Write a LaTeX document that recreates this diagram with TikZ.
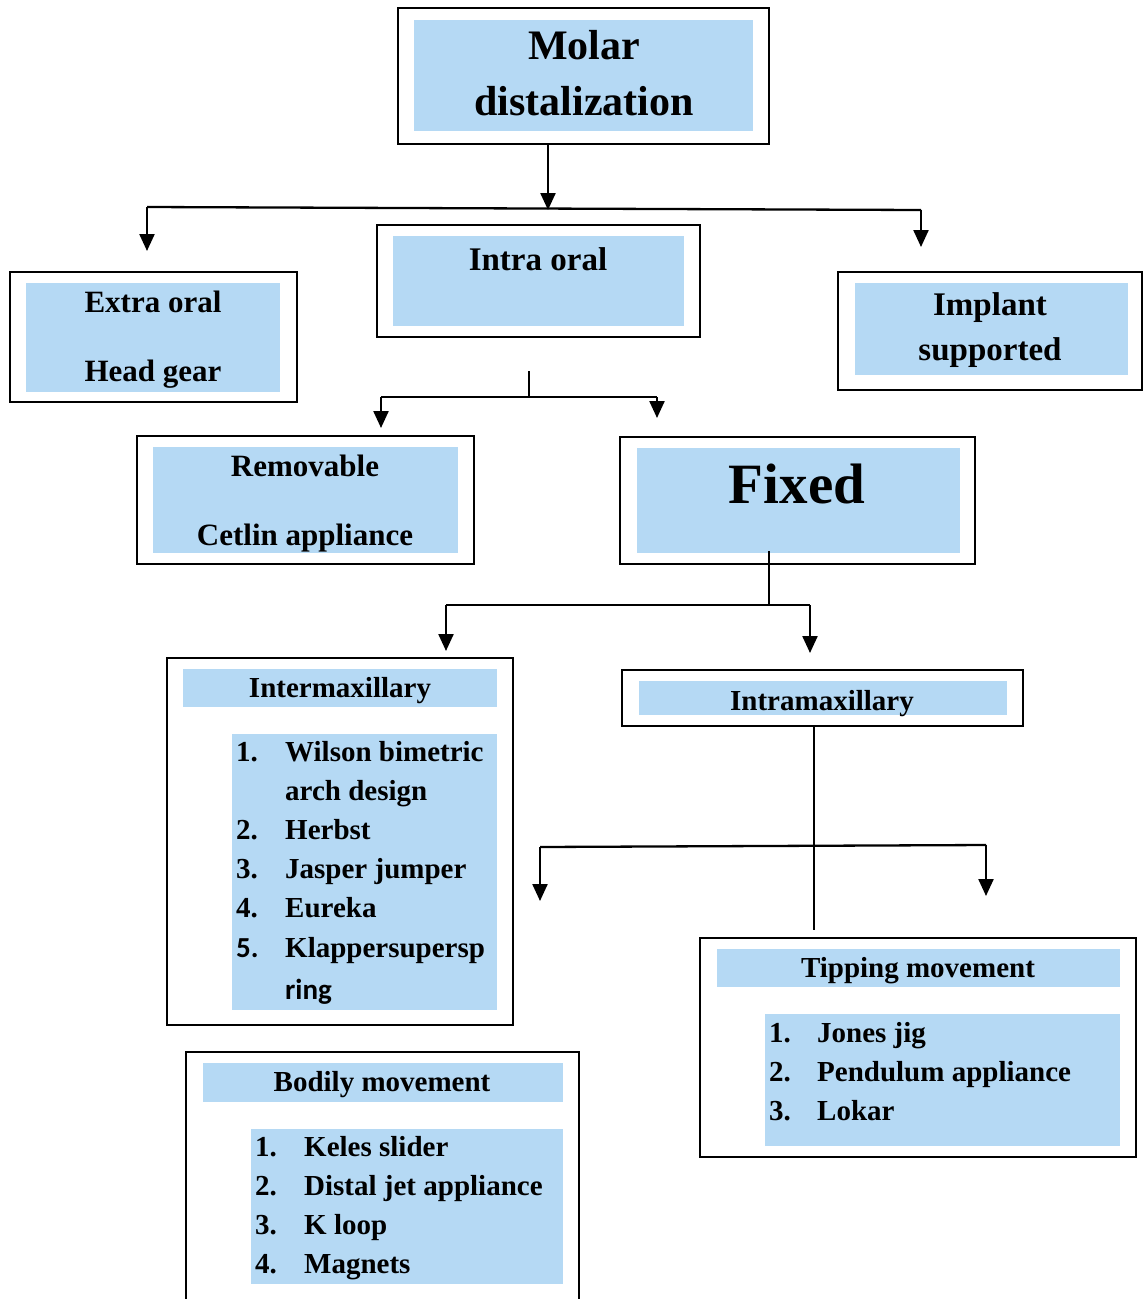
\documentclass[tikz,border=0pt]{standalone}
\usepackage{fontspec}
\setmainfont{Liberation Serif}
\newfontfamily\calib{Carlito}
\usetikzlibrary{arrows.meta,fit}
\definecolor{lb}{RGB}{181,217,244}
\begin{document}
\begin{tikzpicture}[x=1pt,y=-1pt,
  outerbox/.style={draw=black,line width=1.9pt,inner sep=0pt,outer sep=0pt},
  fillbox/.style={fill=lb,inner sep=0pt,outer sep=0pt},
  conn/.style={line width=2.3pt},
  arr/.style={line width=2.3pt,-{Triangle[width=15pt,length=17pt]}},
  txt/.style={anchor=base,inner sep=0pt,font=\fontsize{#1}{#1}\selectfont\bfseries},
  itm/.style={anchor=base west,inner sep=0pt,font=\fontsize{29}{29}\selectfont\bfseries},
  itmc/.style={anchor=base west,inner sep=0pt,font=\fontsize{29}{29}\selectfont\calib\bfseries}
]
\clip (0,0) rectangle (1143,1299);
\fill[white] (0,0) rectangle (1143,1299);

% Molar distalization
\node[outerbox,fit={(398,8) (769,144)}] (molar) {};
\node[fillbox,fit={(414,20) (753,131)}] (molarF) {};
\node[txt=42] (molarT1) at (584,59) {Molar};
\node[txt=42] (molarT2) at (584,115) {distalization};

% first level connectors
\coordinate (h1M) at (548,210);
\coordinate (h1L) at (147,207);
\coordinate (h1R) at (921,210);
\coordinate (tEO) at (147,251);
\coordinate (tIS) at (921,247);
\draw[arr] (molar.south -| h1M) -- (h1M);
\draw[conn] (h1L) -- (h1R);
\draw[arr] (h1L) -- (tEO);
\draw[arr] (h1R) -- (tIS);

% Extra oral
\node[outerbox,fit={(10,272) (297,402)}] (extra) {};
\node[fillbox,fit={(26,283) (280,392)}] (extraF) {};
\node[txt=31] (extraT1) at (153,312) {Extra oral};
\node[txt=31] (extraT2) at (153,381) {Head gear};

% Intra oral
\node[outerbox,fit={(377,225) (700,337)}] (intra) {};
\node[fillbox,fit={(393,236) (684,326)}] (intraF) {};
\node[txt=33] (intraT) at (538,270) {Intra oral};

% Implant supported
\node[outerbox,fit={(838,272) (1142,390)}] (implant) {};
\node[fillbox,fit={(855,283) (1128,375)}] (implantF) {};
\node[txt=33] (implantT1) at (990,315) {Implant};
\node[txt=33] (implantT2) at (990,360) {supported};

% intra oral connectors
\coordinate (io1) at (529,371);
\coordinate (io2) at (529,397);
\coordinate (ioL) at (381,397);
\coordinate (ioR) at (657,397);
\coordinate (tRem) at (381,428);
\coordinate (tFix) at (657,418);
\draw[conn] (io1) -- (io2);
\draw[conn] (ioL) -- (ioR);
\draw[arr] (ioL) -- (tRem);
\draw[arr] (ioR) -- (tFix);

% Removable
\node[outerbox,fit={(137,436) (474,564)}] (remov) {};
\node[fillbox,fit={(153,447) (458,553)}] (removF) {};
\node[txt=31] (removT1) at (305,476) {Removable};
\node[txt=31] (removT2) at (305,545) {Cetlin appliance};

% Fixed
\node[outerbox,fit={(620,437) (975,564)}] (fixed) {};
\node[fillbox,fit={(637,448) (960,553)}] (fixedF) {};
\node[txt=57] (fixedT) at (797,503) {Fixed};

% fixed connectors
\coordinate (fx1) at (769,551);
\coordinate (fx2) at (769,605);
\coordinate (fxL) at (446,605);
\coordinate (fxR) at (810,605);
\coordinate (tInter) at (446,651);
\coordinate (tIntra) at (810,653);
\draw[conn] (fx1) -- (fx2);
\draw[conn] (fxL) -- (fxR);
\draw[arr] (fxL) -- (tInter);
\draw[arr] (fxR) -- (tIntra);

% Intermaxillary
\node[outerbox,fit={(167,658) (513,1025)}] (inter) {};
\node[fillbox,fit={(183,669) (497,707)}] (interH) {};
\node[fillbox,fit={(232,734) (497,1010)}] (interL) {};
\node[txt=29] (interT) at (340,697) {Intermaxillary};
\node[itm] (iN1) at (236,761) {1.};
\node[itm] (iI1) at (285,761) {Wilson bimetric};
\node[itm] (iI1b) at (285,800) {arch design};
\node[itm] (iN2) at (236,839) {2.};
\node[itm] (iI2) at (285,839) {Herbst};
\node[itm] (iN3) at (236,878) {3.};
\node[itm] (iI3) at (285,878) {Jasper jumper};
\node[itm] (iN4) at (236,917) {4.};
\node[itm] (iI4) at (285,917) {Eureka};
\node[itmc] (iN5) at (236,957) {5.};
\node[itm] (iI5) at (285,957) {Klappersupersp};
\node[itmc] (iI5b) at (285,999) {ring};

% Intramaxillary
\node[outerbox,fit={(622,670) (1023,726)}] (intram) {};
\node[fillbox,fit={(639,681) (1007,715)}] (intramF) {};
\node[txt=29] (intramT) at (822,710) {Intramaxillary};

% intramaxillary connectors
\coordinate (im1) at (814,726);
\coordinate (im2) at (814,930);
\coordinate (imL) at (540,847);
\coordinate (imR) at (986,845);
\coordinate (tBod) at (540,901);
\coordinate (tTip) at (986,896);
\draw[conn] (intram.south -| im1) -- (im2);
\draw[conn] (imL) -- (imR);
\draw[arr] (imL) -- (tBod);
\draw[arr] (imR) -- (tTip);

% Tipping movement
\node[outerbox,fit={(700,938) (1136,1157)}] (tip) {};
\node[fillbox,fit={(717,949) (1120,987)}] (tipH) {};
\node[fillbox,fit={(765,1014) (1120,1146)}] (tipL) {};
\node[txt=29] (tipT) at (918,977) {Tipping movement};
\node[itm] (tN1) at (769,1042) {1.};
\node[itm] (tI1) at (817,1042) {Jones jig};
\node[itm] (tN2) at (769,1081) {2.};
\node[itm] (tI2) at (817,1081) {Pendulum appliance};
\node[itm] (tN3) at (769,1120) {3.};
\node[itm] (tI3) at (817,1120) {Lokar};

% Bodily movement
\node[outerbox,fit={(186,1052) (579,1320)}] (bod) {};
\node[fillbox,fit={(203,1063) (563,1102)}] (bodH) {};
\node[fillbox,fit={(251,1129) (563,1284)}] (bodL) {};
\node[txt=29] (bodT) at (382,1091) {Bodily movement};
\node[itm] (bN1) at (255,1156) {1.};
\node[itm] (bI1) at (304,1156) {Keles slider};
\node[itm] (bN2) at (255,1195) {2.};
\node[itm] (bI2) at (304,1195) {Distal jet appliance};
\node[itm] (bN3) at (255,1234) {3.};
\node[itm] (bI3) at (304,1234) {K loop};
\node[itm] (bN4) at (255,1273) {4.};
\node[itm] (bI4) at (304,1273) {Magnets};
\end{tikzpicture}
\end{document}
